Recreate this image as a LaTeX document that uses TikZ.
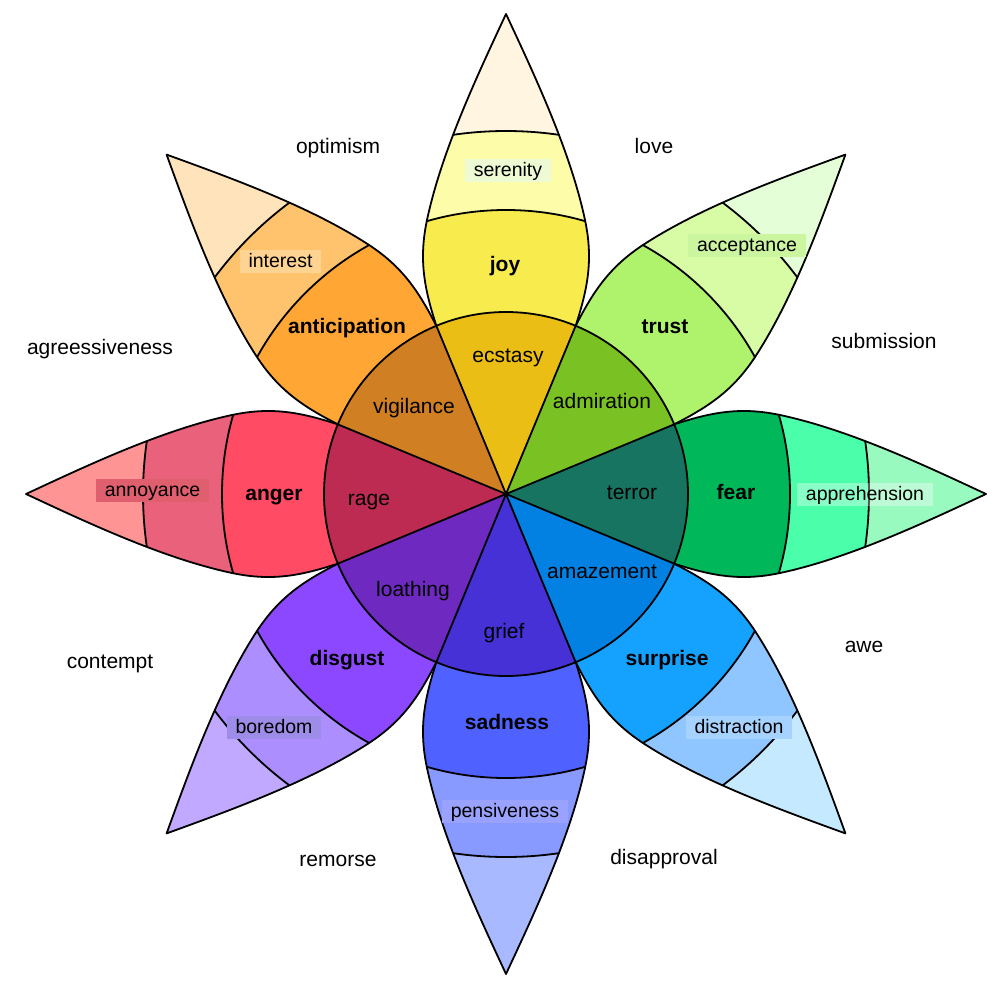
\documentclass[tikz,border=0pt]{standalone}
\usepackage{fontspec}
\setmainfont{Liberation Sans}
\definecolor{joyA}{HTML}{FFF5E1}\definecolor{joyB}{HTML}{FDFCA8}\definecolor{joyC}{HTML}{F8EB4E}\definecolor{joyD}{HTML}{EBBE16}
\definecolor{truA}{HTML}{E4FED7}\definecolor{truB}{HTML}{D8FBA6}\definecolor{truC}{HTML}{AFF26C}\definecolor{truD}{HTML}{7AC224}
\definecolor{feaA}{HTML}{99FAC0}\definecolor{feaB}{HTML}{4BFEA9}\definecolor{feaC}{HTML}{00B85A}\definecolor{feaD}{HTML}{177460}
\definecolor{surA}{HTML}{C5EAFF}\definecolor{surB}{HTML}{90C6FF}\definecolor{surC}{HTML}{15A2FF}\definecolor{surD}{HTML}{0281E3}
\definecolor{sadA}{HTML}{A9B9FF}\definecolor{sadB}{HTML}{8899FF}\definecolor{sadC}{HTML}{4F62FF}\definecolor{sadD}{HTML}{4531D6}
\definecolor{disA}{HTML}{C0A9FF}\definecolor{disB}{HTML}{AC8EFF}\definecolor{disC}{HTML}{8C48FE}\definecolor{disD}{HTML}{6E2AC0}
\definecolor{angA}{HTML}{FF9494}\definecolor{angB}{HTML}{E9617A}\definecolor{angC}{HTML}{FF4B64}\definecolor{angD}{HTML}{BD2B52}
\definecolor{antA}{HTML}{FFE3BA}\definecolor{antB}{HTML}{FFC26D}\definecolor{antC}{HTML}{FFA635}\definecolor{antD}{HTML}{D07F22}
\definecolor{bxSer}{HTML}{EDFAD3}\definecolor{bxInt}{HTML}{FFD391}\definecolor{bxAcc}{HTML}{CCF5A0}
\definecolor{bxDis}{HTML}{A6D2FF}\definecolor{bxPen}{HTML}{99A3FF}\definecolor{bxBor}{HTML}{9D8DE8}\definecolor{bxAnn}{HTML}{DF5F6F}
\newcommand{\petalshape}{(0,0) -- (168.1,-69.6) .. controls (206.1,-82) and (234.9,-87.3) .. (274,-79) .. controls (342.5,-64.4) and (416.6,-29.6) .. (480,0) .. controls (416.6,29.6) and (342.5,64.4) .. (274,79) .. controls (234.9,87.3) and (206.1,82) .. (168.1,69.6) -- cycle}
\newcommand{\petaledge}{(168.1,-69.6) .. controls (206.1,-82) and (234.9,-87.3) .. (274,-79) .. controls (342.5,-64.4) and (416.6,-29.6) .. (480,0) .. controls (416.6,29.6) and (342.5,64.4) .. (274,79) .. controls (234.9,87.3) and (206.1,82) .. (168.1,69.6)}
\newcommand{\drawpetal}[5]{%
\begin{scope}[shift={(506,494)}, x=1pt, y=1pt, rotate=#1]
  \fill[#2] \petalshape;
  \begin{scope}
    \clip \petalshape;
    \fill[#3] (0,0) circle[radius=363];
    \fill[#4] (0,0) circle[radius=284];
    \draw[ring] (0,0) circle[radius=363];
    \draw[ring] (0,0) circle[radius=284];
  \end{scope}
  \draw[outline] \petaledge;
  \fill[#5] (0,0) -- (-22.5:182) arc[start angle=-22.5, end angle=22.5, radius=182] -- cycle;
\end{scope}}
\begin{document}
\begin{tikzpicture}[x=1pt,y=-1pt,
  outline/.style={draw=black, line width=1.8pt, line join=round, line cap=round},
  ring/.style={draw=black, line width=1.8pt},
  lbl/.style={font=\fontsize{21}{25}\selectfont, text height=15pt, text depth=3pt, inner sep=0pt},
  blbl/.style={font=\fontsize{21}{25}\selectfont\bfseries, text height=15pt, text depth=3pt, inner sep=0pt},
  boxlbl/.style={font=\fontsize{19.5}{23}\selectfont, text height=15pt, text depth=3pt, inner xsep=9pt, inner ysep=2.5pt}]
\useasboundingbox (0,0) rectangle (1000,992);
\fill[white] (0,0) rectangle (1000,992);
\drawpetal{90}{joyA}{joyB}{joyC}{joyD}
\drawpetal{45}{truA}{truB}{truC}{truD}
\drawpetal{0}{feaA}{feaB}{feaC}{feaD}
\drawpetal{-45}{surA}{surB}{surC}{surD}
\drawpetal{-90}{sadA}{sadB}{sadC}{sadD}
\drawpetal{-135}{disA}{disB}{disC}{disD}
\drawpetal{180}{angA}{angB}{angC}{angD}
\drawpetal{135}{antA}{antB}{antC}{antD}
\begin{scope}[shift={(506,494)}, x=1pt, y=1pt]
  \coordinate (c) at (0,0);
  \foreach \a in {22.5,67.5,...,337.5} {\coordinate (j) at (\a:182); \draw[outline] (c) -- (j);}
  \draw[ring] (c) circle[radius=182];
\end{scope}
% outer dyads
\node[lbl] (optimism) at (338,148) {optimism};
\node[lbl] (love) at (654,148) {love};
\node[lbl] (submission) at (884,342) {submission};
\node[lbl] (awe) at (864,646) {awe};
\node[lbl] (disapproval) at (664,858) {disapproval};
\node[lbl] (remorse) at (338,860) {remorse};
\node[lbl] (contempt) at (110,662) {contempt};
\node[lbl] (aggr) at (100,348) {agreessiveness};
% inner
\node[lbl] (ecstasy) at (508,356) {ecstasy};
\node[lbl] (admiration) at (602,402) {admiration};
\node[lbl] (terror) at (632,493) {terror};
\node[lbl] (amazement) at (602,572) {amazement};
\node[lbl] (grief) at (504,632) {grief};
\node[lbl] (loathing) at (413,590) {loathing};
\node[lbl] (rage) at (369,499) {rage};
\node[lbl] (vigilance) at (414,407) {vigilance};
% middle
\node[blbl] (joy) at (505,265) {joy};
\node[blbl] (trust) at (665,327) {trust};
\node[blbl] (fear) at (736,493) {fear};
\node[blbl] (surprise) at (667,659) {surprise};
\node[blbl] (sadness) at (507,723) {sadness};
\node[blbl] (disgust) at (347,659) {disgust};
\node[blbl] (anger) at (274,494) {anger};
\node[blbl] (anticipation) at (347,327) {anticipation};
% outer band labels
\node[boxlbl, fill=bxSer] (serenity) at (508,170.5) {serenity};
\node[boxlbl, fill=bxAcc] (acceptance) at (747,245.5) {acceptance};
\node[boxlbl, fill=white, fill opacity=0.35, text opacity=1] (apprehension) at (865,494) {apprehension};
\node[boxlbl, fill=bxDis] (distraction) at (739,727.5) {distraction};
\node[boxlbl, fill=bxPen] (pensiveness) at (505,811) {pensiveness};
\node[boxlbl, fill=bxBor] (boredom) at (274,727) {boredom};
\node[boxlbl, fill=bxAnn] (annoyance) at (152.5,490.5) {annoyance};
\node[boxlbl, fill=bxInt] (interest) at (280.5,261.5) {interest};
\end{tikzpicture}
\end{document}
